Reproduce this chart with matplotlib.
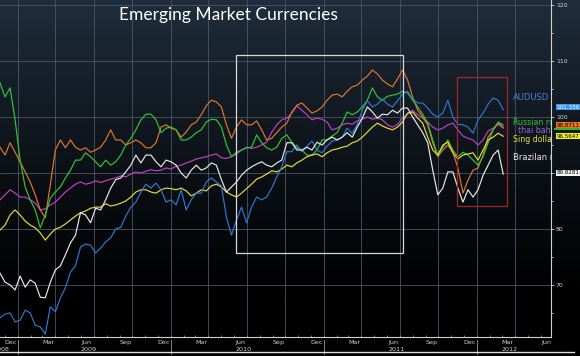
import numpy as np
import pandas as pd
import matplotlib
matplotlib.use("Agg")
import matplotlib.pyplot as plt
import matplotlib.dates as mdates
from matplotlib.patches import Rectangle
from matplotlib.transforms import blended_transform_factory

dates = pd.date_range("2008-11-20", periods=101, freq="12D")

audusd = [64.1, 64.8, 65.0, 63.4, 63.7, 65.5, 65.0, 62.8, 62.5, 61.2,
          66.1, 65.2, 67.7, 69.5, 72.3, 73.4, 76.8, 77.3, 77.1, 75.7,
          76.6, 77.7, 78.4, 80.0, 80.3, 82.3, 83.9, 84.8, 86.6, 88.0,
          87.3, 88.2, 87.0, 84.8, 85.2, 84.3, 87.0, 83.4, 85.2, 86.4,
          86.4, 88.4, 89.1, 88.4, 87.7, 82.1, 78.9, 81.6, 83.9, 81.1,
          83.9, 85.7, 85.2, 85.7, 87.3, 89.3, 91.1, 93.8, 93.8, 95.0,
          93.8, 94.8, 95.7, 94.1, 93.6, 94.8, 95.7, 95.9, 96.4, 98.0,
          97.1, 98.7, 101.2, 102.9, 101.8, 102.3, 103.2, 102.3, 101.8, 102.9,
          104.1, 104.6, 103.2, 102.5, 102.5, 101.6, 100.5, 100.0, 100.7, 103.0,
          100.0, 98.7, 98.6, 98.2, 97.1, 99.5, 100.7, 102.3, 103.4, 103.0,
          101.3]
russian = [106.1, 103.6, 105.2, 99.5, 92.3, 87.5, 85.2, 83.4, 80.2, 82.5,
           85.5, 86.6, 87.5, 89.1, 90.5, 92.3, 92.3, 93.6, 92.9, 92.0,
           91.1, 92.3, 91.4, 92.0, 93.2, 95.0, 96.2, 97.7, 99.5, 100.5,
           100.5, 99.5, 97.2, 98.0, 98.2, 97.7, 95.9, 95.9, 96.4, 97.2,
           97.7, 99.1, 99.6, 99.5, 98.2, 95.0, 92.9, 93.7, 94.1, 94.5,
           94.6, 96.8, 95.4, 94.5, 94.1, 94.6, 96.2, 96.8, 95.5, 94.5,
           94.1, 93.2, 93.2, 94.1, 95.9, 95.9, 96.6, 97.2, 98.9, 100.9,
           100.4, 100.9, 101.8, 103.0, 105.2, 103.6, 103.0, 103.7, 103.9, 104.1,
           104.6, 104.3, 103.0, 101.8, 100.5, 98.9, 95.9, 93.2, 94.6, 95.9,
           94.1, 92.9, 93.7, 93.2, 92.3, 91.4, 92.9, 95.4, 97.7, 99.1,
           98.6]
orange = [94.6, 93.2, 95.4, 93.7, 92.0, 90.2, 88.4, 86.1, 83.4, 82.0,
          87.9, 94.1, 95.9, 94.5, 95.9, 94.6, 94.1, 94.5, 93.7, 94.1,
          94.6, 95.9, 97.7, 95.9, 95.9, 95.0, 95.4, 95.9, 95.4, 94.5,
          94.5, 95.4, 98.2, 98.6, 98.0, 97.7, 96.4, 97.3, 98.6, 99.1,
          100.4, 102.0, 103.0, 102.7, 101.8, 98.6, 96.2, 98.2, 99.5, 98.6,
          98.6, 99.3, 97.7, 95.9, 96.2, 97.2, 98.2, 98.9, 100.9, 102.1,
          102.5, 101.6, 100.7, 101.1, 101.8, 103.0, 103.9, 104.1, 103.6, 104.6,
          105.4, 105.7, 106.6, 107.3, 108.4, 107.7, 106.6, 105.9, 105.4, 106.8,
          108.4, 106.6, 103.6, 101.2, 100.0, 98.6, 95.4, 92.9, 94.1, 95.0,
          93.7, 90.9, 86.4, 88.7, 90.5, 90.9, 93.2, 96.4, 97.7, 98.9,
          98.2]
thai_baht = [85.2, 86.1, 87.0, 86.4, 85.7, 85.7, 85.2, 84.6, 83.4, 83.6,
             84.3, 84.8, 85.7, 86.6, 87.3, 88.0, 88.4, 88.0, 88.2, 88.6,
             88.3, 88.6, 88.9, 89.1, 89.5, 89.3, 89.8, 90.2, 90.0, 90.3,
             90.6, 90.4, 90.5, 90.9, 90.7, 91.2, 91.4, 91.8, 92.1, 92.5,
             92.7, 92.9, 93.2, 93.4, 92.7, 92.6, 92.9, 93.4, 94.1, 94.6,
             94.4, 94.6, 95.0, 95.5, 97.3, 98.6, 99.5, 99.8, 100.7, 102.0,
             101.2, 100.4, 99.5, 99.8, 99.6, 99.1, 97.7, 98.0, 98.6, 98.9,
             98.7, 99.3, 99.6, 100.0, 99.6, 99.8, 99.5, 98.6, 98.2, 98.7,
             99.8, 100.5, 101.2, 100.4, 99.8, 99.1, 98.2, 97.7, 98.0, 98.6,
             98.9, 97.7, 96.6, 96.2, 95.9, 95.0, 95.9, 97.5, 98.0, 98.7,
             98.0]
sing_dollar = [79.8, 80.7, 82.5, 83.4, 82.5, 81.4, 80.7, 80.2, 79.3, 78.0,
               79.1, 80.0, 80.3, 80.9, 81.6, 82.3, 82.9, 83.2, 83.7, 83.9,
               83.9, 84.5, 84.1, 84.3, 84.6, 85.0, 85.7, 86.6, 87.0, 87.0,
               86.6, 86.4, 87.0, 87.3, 87.2, 87.0, 87.3, 86.8, 85.9, 86.4,
               87.0, 86.8, 87.7, 88.0, 87.5, 86.6, 86.1, 85.7, 86.4, 87.2,
               88.0, 88.9, 89.3, 89.8, 90.4, 90.2, 90.7, 91.4, 91.1, 91.8,
               92.3, 92.9, 93.2, 93.4, 92.9, 93.6, 94.1, 94.3, 94.6, 94.8,
               95.4, 95.7, 96.4, 97.3, 98.2, 98.9, 98.4, 98.0, 97.7, 98.2,
               99.1, 100.7, 100.9, 99.8, 98.9, 96.4, 94.1, 93.2, 95.0, 95.5,
               93.6, 92.5, 93.2, 93.4, 93.6, 92.3, 94.1, 95.9, 96.4, 97.1,
               96.56]
brazilian = [72.1, 70.5, 70.0, 69.1, 71.6, 69.6, 70.9, 70.3, 67.8, 67.7,
             70.5, 72.7, 73.4, 75.4, 77.5, 78.9, 82.9, 82.5, 81.1, 83.7,
             83.4, 85.2, 87.3, 88.8, 89.1, 90.2, 91.4, 93.2, 91.8, 93.2,
             93.2, 92.0, 91.1, 92.3, 92.0, 91.4, 90.0, 89.1, 90.5, 91.4,
             90.5, 90.9, 91.8, 91.4, 88.8, 86.6, 87.5, 88.4, 89.6, 90.5,
             91.1, 91.6, 92.0, 91.4, 91.1, 91.8, 92.3, 95.4, 95.4, 94.1,
             94.1, 94.6, 94.1, 95.5, 95.0, 95.9, 96.4, 95.9, 96.4, 97.2,
             96.4, 98.2, 99.8, 101.8, 100.9, 99.8, 100.5, 100.4, 101.2, 100.7,
             101.6, 101.6, 100.0, 98.6, 97.2, 95.4, 90.5, 86.1, 87.3, 90.2,
             90.2, 87.3, 84.8, 87.0, 85.7, 87.0, 89.6, 91.4, 93.2, 94.1,
             89.8]

# last-value tags on the right axis (the Russian one sits mostly under the orange one)
tag_text = ["98.8711", "101.336", "96.5647", "89.8281"]
tag_y = [98.55, 101.75, 96.6, 90.05]
tag_bg = ["#e8731f", "#3a96f0", "#f2ee2a", "#f2f2f2"]
tag_fg = ["#000000", "#ffffff", "#000000", "#000000"]
russian_tag_y = (97.6, 98.0)

# highlighted windows
white_box = ("2010-06-06", "2011-07-08", 75.7, 111.1)
red_box = ("2011-11-16", "2012-03-14", 84.1, 107.1)

fig = plt.figure(figsize=(5.8, 3.56), dpi=100, facecolor="black")

# dark blue -> black backdrop
bg = fig.add_axes([0, 0, 1, 1], zorder=-5)
rows = np.linspace(0, 1, 200)
top = np.array([32, 45, 60]) / 255.0
r = np.clip(1 - rows / 0.85, 0, 1) ** 1.2
grad = (top[None, :] * r[:, None])[:, None, :]
bg.imshow(grad, aspect="auto", extent=[0, 1, 0, 1], origin="upper")
bg.axis("off")

ax = fig.add_axes([0.0, 1 - 337 / 356, 551 / 580, 337 / 356])
ax.set_facecolor("none")
ax.set_xlim(pd.Timestamp("2008-11-20"), pd.Timestamp("2012-06-26"))
ax.set_ylim(60.7, 120.9)

gridc = "#4b5663"
qstarts = pd.date_range("2009-01-01", "2012-04-01", freq="QS")
for d in qstarts:
    ax.axvline(d, color=gridc, lw=0.6, zorder=1)
for v in range(70, 121, 10):
    ax.axhline(v, color=gridc, lw=0.6, zorder=1)

ax.plot(dates, thai_baht, color="#c23fc9", lw=0.85, zorder=3)
ax.plot(dates, orange, color="#e0772c", lw=0.85, zorder=3)
ax.plot(dates, russian, color="#35c435", lw=0.85, zorder=3)
ax.plot(dates, sing_dollar, color="#e4dc3c", lw=0.85, zorder=3)
ax.plot(dates, audusd, color="#2e78d4", lw=0.85, zorder=3)
ax.plot(dates, brazilian, color="#e8e8e8", lw=0.85, zorder=4)

for box, col in [(white_box, "#d8d8d8"), (red_box, "#a02828")]:
    x0 = mdates.date2num(pd.Timestamp(box[0]))
    x1 = mdates.date2num(pd.Timestamp(box[1]))
    ax.add_patch(Rectangle((x0, box[2]), x1 - x0, box[3] - box[2],
                           fill=False, ec=col, lw=0.9, zorder=5))

# series names, cut off by the axis like on the terminal
lab_x = pd.Timestamp("2012-03-27")
ax.text(lab_x, 103.4, "AUDUSD", color="#4f7ed6", fontsize=6.0, va="center", clip_on=True)
ax.text(lab_x, 99.05, "Russian ruble", color="#35c435", fontsize=5.7, va="center", clip_on=True)
ax.text(pd.Timestamp("2012-04-08"), 97.6, "thai baht", color="#9b63c9", fontsize=5.7, va="center", clip_on=True)
ax.text(lab_x, 96.05, "Sing dollar", color="#e4dc3c", fontsize=5.7, va="center", clip_on=True)
ax.text(lab_x, 92.7, "Brazilan real", color="#e8e8e8", fontsize=6.0, va="center", clip_on=True)

ax.text(0.414, 0.955, "Emerging Market Currencies", transform=ax.transAxes,
        ha="center", va="center", color="white", fontsize=12.5, family="Lato")

# right axis (the 90 label is hidden behind the white tag on the original)
ax.yaxis.tick_right()
ax.set_yticks(range(70, 121, 10))
ax.set_yticklabels(["70", "80", "", "100", "110", "120"])
ax.set_yticks(range(65, 121, 5), minor=True)
ax.tick_params(axis="y", which="both", colors="#cfcfcf", labelsize=4.4, length=2.5, width=0.6, pad=1)
ax.tick_params(axis="y", which="minor", length=1.5)

months = pd.date_range("2008-12-01", "2012-06-01", freq="3MS") + pd.Timedelta(days=14)
ax.set_xticks(months)
ax.set_xticklabels([d.strftime("%b") for d in months])
ax.set_xticks(pd.date_range("2008-12-01", "2012-06-01", freq="MS"), minor=True)
ax.tick_params(axis="x", which="major", length=0, colors="#cfcfcf", labelsize=4.6, pad=2)
ax.tick_params(axis="x", which="minor", direction="in", length=1.5, width=0.6, colors="#8a8a8a")

for s in ["top", "left"]:
    ax.spines[s].set_visible(False)
for s in ["bottom", "right"]:
    ax.spines[s].set_color("#d0d0d0")
    ax.spines[s].set_linewidth(0.8)

trans = blended_transform_factory(ax.transData, ax.transAxes)
years = ["2008", "2009", "2010", "2011", "2012"]
year_x = ["2008-11-24", "2009-06-20", "2010-06-23", "2011-06-24", "2012-03-19"]
for y, xd in zip(years, year_x):
    ax.text(pd.Timestamp(xd), -0.036, y, transform=trans, ha="center", va="center",
            color="#cfcfcf", fontsize=4.6, clip_on=False)
for yd in ["2009-01-01", "2010-01-01", "2011-01-01", "2012-01-01"]:
    ax.plot([pd.Timestamp(yd)] * 2, [-0.05, -0.01], transform=trans, color="#9a9a9a",
            lw=0.6, clip_on=False)

# right-hand value tags
rtrans = blended_transform_factory(ax.transAxes, ax.transData)
ax.add_patch(Rectangle((1.005, russian_tag_y[0]), 0.06, russian_tag_y[1] - russian_tag_y[0],
                       transform=rtrans, fc="#2fb52f", ec="none", clip_on=False, zorder=6))
for txt, yv, bgc, fgc in zip(tag_text, tag_y, tag_bg, tag_fg):
    ax.annotate(txt, xy=(1.0, yv), xycoords=("axes fraction", "data"),
                xytext=(4, 0), textcoords="offset points", va="center", ha="left",
                fontsize=4.1, color=fgc, annotation_clip=False, zorder=7,
                bbox=dict(boxstyle="square,pad=0.12", fc=bgc, ec="none"))

fig.add_artist(plt.Line2D([0, 0.99], [1 - 352 / 356] * 2, transform=fig.transFigure,
                          color="#e0e0e0", lw=1.0))

fig.savefig("out.png", dpi=100, facecolor=fig.get_facecolor())
